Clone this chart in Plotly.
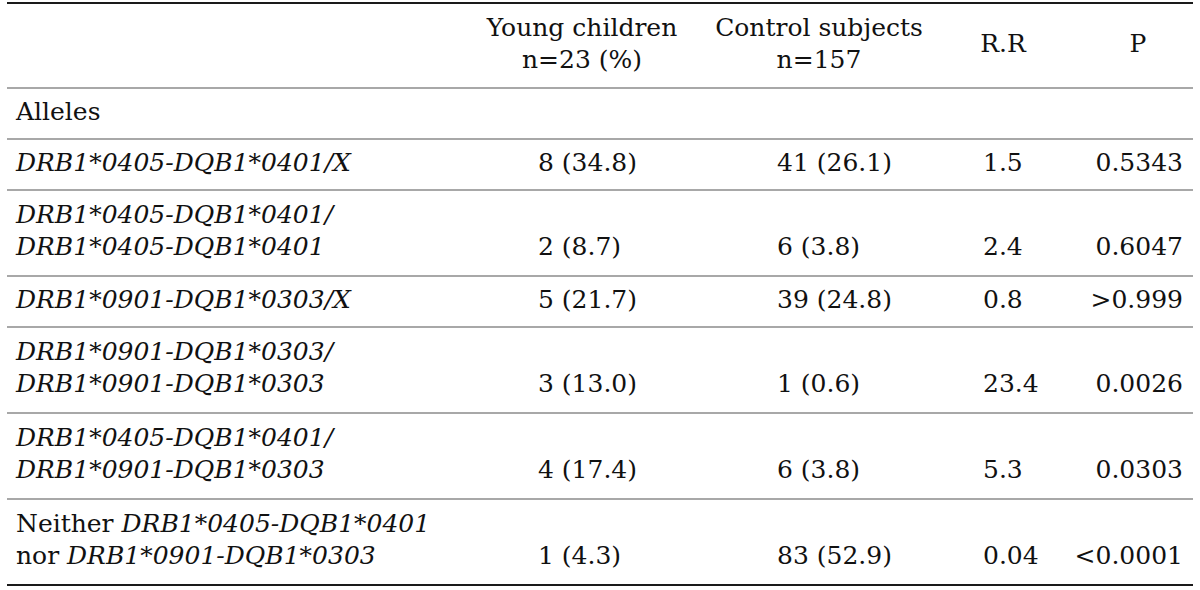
import plotly.graph_objects as go

# ---------------- data ----------------
header_col1 = ["Young children", "n=23 (%)"]
header_col2 = ["Control subjects", "n=157"]
header_rr = "R.R"
header_p = "P"

section_label = "Alleles"

row_label_line1 = [
    "<i>DRB1*0405-DQB1*0401/X</i>",
    "<i>DRB1*0405-DQB1*0401/</i>",
    "<i>DRB1*0901-DQB1*0303/X</i>",
    "<i>DRB1*0901-DQB1*0303/</i>",
    "<i>DRB1*0405-DQB1*0401/</i>",
    "Neither <i>DRB1*0405-DQB1*0401</i>",
]
row_label_line2 = [
    None,
    "<i>DRB1*0405-DQB1*0401</i>",
    None,
    "<i>DRB1*0901-DQB1*0303</i>",
    "<i>DRB1*0901-DQB1*0303</i>",
    "nor <i>DRB1*0901-DQB1*0303</i>",
]
young_children = ["8 (34.8)", "2 (8.7)", "5 (21.7)", "3 (13.0)", "4 (17.4)", "1 (4.3)"]
control_subjects = ["41 (26.1)", "6 (3.8)", "39 (24.8)", "1 (0.6)", "6 (3.8)", "83 (52.9)"]
relative_risk = ["1.5", "2.4", "0.8", "23.4", "5.3", "0.04"]
p_values = ["0.5343", "0.6047", "&gt;0.999", "0.0026", "0.0303", "&lt;0.0001"]

# ---------------- layout (pixels) ----------------
W, H = 1200, 590
TOP = 3
HEADER_H = 85
SECTION_H = 51
ONE_LINE_H = 51
TWO_LINE_H = 86
LINE_GAP = 16  # half distance between two text lines

X_LEFT = 16
X_C1 = 538
X_C2 = 777
X_RR = 983
X_P = 1183
XH_C1 = 582
XH_C2 = 819
XH_RR = 1003
XH_P = 1138
RULE_X0, RULE_X1 = 7, 1193

FONT = "DejaVu Serif"
FS = 25
TXT = "#111111"

# row boundaries
bounds = [TOP, TOP + HEADER_H]
bounds.append(bounds[-1] + SECTION_H)
row_heights = [TWO_LINE_H if l2 else ONE_LINE_H for l2 in row_label_line2]
for h in row_heights:
    bounds.append(bounds[-1] + h)

header_c = (bounds[0] + bounds[1]) / 2
section_c = (bounds[1] + bounds[2]) / 2
row_centers = [(bounds[i + 2] + bounds[i + 3]) / 2 for i in range(len(row_heights))]

fig = go.Figure()


def add_text(xs, ys, texts, pos):
    fig.add_trace(go.Scatter(
        x=xs, y=ys, text=texts, mode="text", textposition=pos,
        textfont=dict(family=FONT, size=FS, color=TXT),
        hoverinfo="skip", showlegend=False, cliponaxis=False,
    ))


# header
add_text([XH_C1, XH_C1], [header_c - LINE_GAP, header_c + LINE_GAP], header_col1, "middle center")
add_text([XH_C2, XH_C2], [header_c - LINE_GAP, header_c + LINE_GAP], header_col2, "middle center")
add_text([XH_RR, XH_P], [header_c, header_c], [header_rr, header_p], "middle center")

# section label
add_text([X_LEFT], [section_c], [section_label], "middle right")

# row labels
lx, ly, lt = [], [], []
vy = []
for c, l1, l2 in zip(row_centers, row_label_line1, row_label_line2):
    if l2:
        lx += [X_LEFT, X_LEFT]
        ly += [c - LINE_GAP, c + LINE_GAP]
        lt += [l1, l2]
        vy.append(c + LINE_GAP)
    else:
        lx.append(X_LEFT)
        ly.append(c)
        lt.append(l1)
        vy.append(c)
add_text(lx, ly, lt, "middle right")

# values
add_text([X_C1] * len(vy), vy, young_children, "middle right")
add_text([X_C2] * len(vy), vy, control_subjects, "middle right")
add_text([X_RR] * len(vy), vy, relative_risk, "middle right")
add_text([X_P] * len(vy), vy, p_values, "middle left")

# rules
shapes = []
for i, yb in enumerate(bounds):
    outer = i == 0 or i == len(bounds) - 1
    shapes.append(dict(
        type="line", xref="x", yref="y", x0=RULE_X0, x1=RULE_X1, y0=yb, y1=yb,
        line=dict(color="#1a1a1a" if outer else "#a8a8a8", width=2),
    ))

fig.update_layout(
    width=W, height=H,
    margin=dict(l=0, r=0, t=0, b=0),
    paper_bgcolor="white", plot_bgcolor="white",
    xaxis=dict(range=[0, W], visible=False, fixedrange=True),
    yaxis=dict(range=[H, 0], visible=False, fixedrange=True),
    shapes=shapes,
)

fig.write_html(
    "out.html",
    config={"displayModeBar": False},
    post_script="document.body.style.margin='0px';",
)
